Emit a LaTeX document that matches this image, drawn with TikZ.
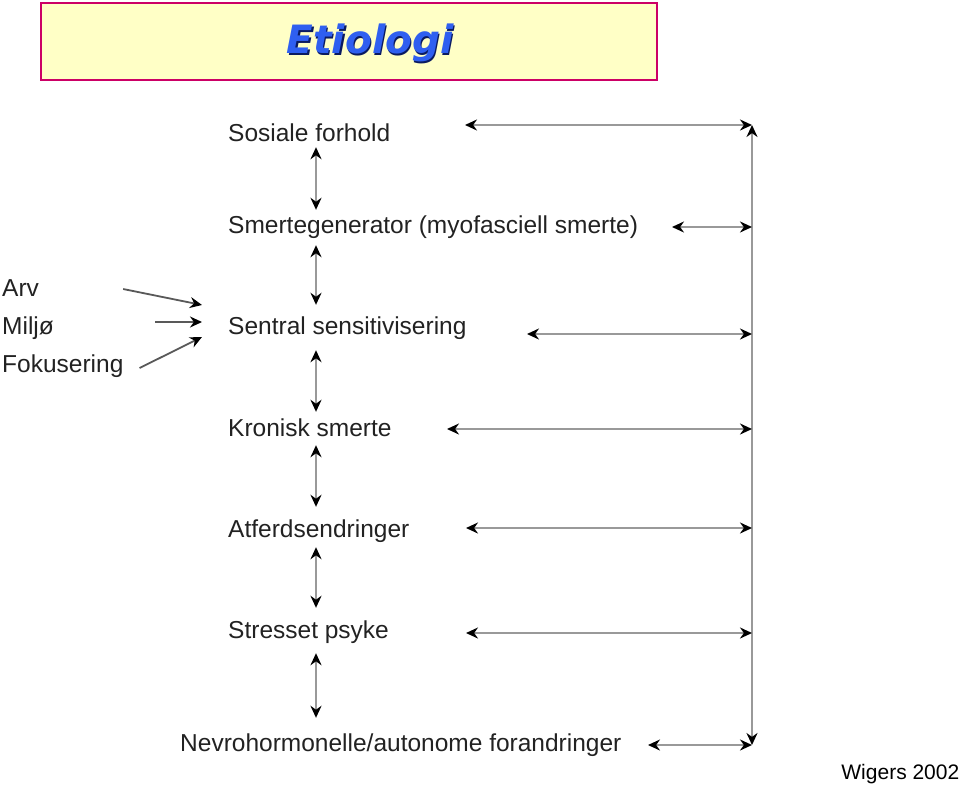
\documentclass[tikz,border=0pt]{standalone}
\usepackage{fontspec}
\setmainfont{Liberation Sans}
\newfontfamily\titlefont{DejaVu Sans}
\usetikzlibrary{arrows.meta}
\definecolor{titlefill}{HTML}{FFFFC6}
\definecolor{titleborder}{HTML}{CC0066}
\definecolor{titleblue}{HTML}{2F5FF0}
\definecolor{titledark}{HTML}{0A1A60}
\definecolor{textgray}{HTML}{222222}
\definecolor{linegray}{HTML}{999999}
\tikzset{
  lbl/.style={anchor=west, inner sep=0pt, text height=17pt, text depth=0pt,
    font=\fontsize{24.5}{26}\selectfont, text=textgray},
  conn/.style={draw=linegray, line width=2.4pt,
    {Stealth[black,length=12pt,width=11pt]}-{Stealth[black,length=12pt,width=11pt]}},
  inarrow/.style={draw=black!65, line width=1.8pt,
    -{Stealth[black,length=12pt,width=11pt]}},
}
\begin{document}
\begin{tikzpicture}[x=1pt,y=-1pt]
\useasboundingbox (0,0) rectangle (960,785);
% title
\node[draw=titleborder, fill=titlefill, line width=1.6pt, anchor=north west,
  minimum width=616pt, minimum height=77pt, inner sep=0pt] (titlebox) at (40,2) {};
\node[text=titledark, font=\titlefont\bfseries\itshape\fontsize{39}{41}\selectfont]
  (titleshadow) at (371.5,44.5) {Etiologi};
\node[text=titleblue, font=\titlefont\bfseries\itshape\fontsize{39}{41}\selectfont]
  (title) at (370,43) {Etiologi};
% main column
\node[lbl] (s1) at (228,133) {Sosiale forhold};
\node[lbl] (s2) at (228,225) {Smertegenerator (myofasciell smerte)};
\node[lbl] (s3) at (228,326) {Sentral sensitivisering};
\node[lbl] (s4) at (228,428) {Kronisk smerte};
\node[lbl] (s5) at (228,529) {Atferdsendringer};
\node[lbl] (s6) at (228,630) {Stresset psyke};
\node[lbl] (s7) at (180,743) {Nevrohormonelle/autonome forandringer};
% left factors
\node[lbl] (arv) at (2,288) {Arv};
\node[lbl] (milj) at (2,326) {Miljø};
\node[lbl] (fok) at (2,364) {Fokusering};
% reference
\node[anchor=east, inner sep=0pt, text height=15pt, text depth=0pt,
  font=\fontsize{21}{23}\selectfont] (ref) at (959.5,772) {Wigers 2002};
% vertical arrows between steps
\coordinate (vx) at (316,0);
\draw[conn, shorten <=5.5pt, shorten >=6.5pt] (s1.south -| vx) -- (s2.north -| vx);
\draw[conn, shorten <=11.5pt, shorten >=12.5pt] (s2.south -| vx) -- (s3.north -| vx);
\draw[conn, shorten <=15.5pt, shorten >=7.5pt] (s3.south -| vx) -- (s4.north -| vx);
\draw[conn, shorten <=8.5pt, shorten >=13.5pt] (s4.south -| vx) -- (s5.north -| vx);
\draw[conn, shorten <=9.5pt, shorten >=13.5pt] (s5.south -| vx) -- (s6.north -| vx);
\draw[conn, shorten <=14.5pt, shorten >=16.5pt] (s6.south -| vx) -- (s7.north -| vx);
% right bracket line
\coordinate (vtop) at (752,125);
\coordinate (vbot) at (752,745);
\draw[conn] (vbot) -- (vtop);
% horizontal arrows to the right line
\coordinate (h1) at (465,125);
\coordinate (h2) at (672,227);
\coordinate (h3) at (527,334);
\coordinate (h4) at (447,429);
\coordinate (h5) at (466,528);
\coordinate (h6) at (466,633);
\coordinate (h7) at (648,745);
\foreach \h in {h1,h2,h3,h4,h5,h6,h7}
  \draw[conn] (\h) -- (\h -| vtop);
% incoming arrows to Sentral sensitivisering
\draw[inarrow] ([xshift=84pt,yshift=-1pt]arv.east) -- ([xshift=-26pt,yshift=21pt]s3.west);
\draw[inarrow] ([xshift=101pt,yshift=4pt]milj.east) -- ([xshift=-26pt,yshift=4pt]s3.west);
\draw[inarrow] ([xshift=16pt,yshift=-4pt]fok.east) -- ([xshift=-26pt,yshift=-11pt]s3.west);
\end{tikzpicture}
\end{document}
